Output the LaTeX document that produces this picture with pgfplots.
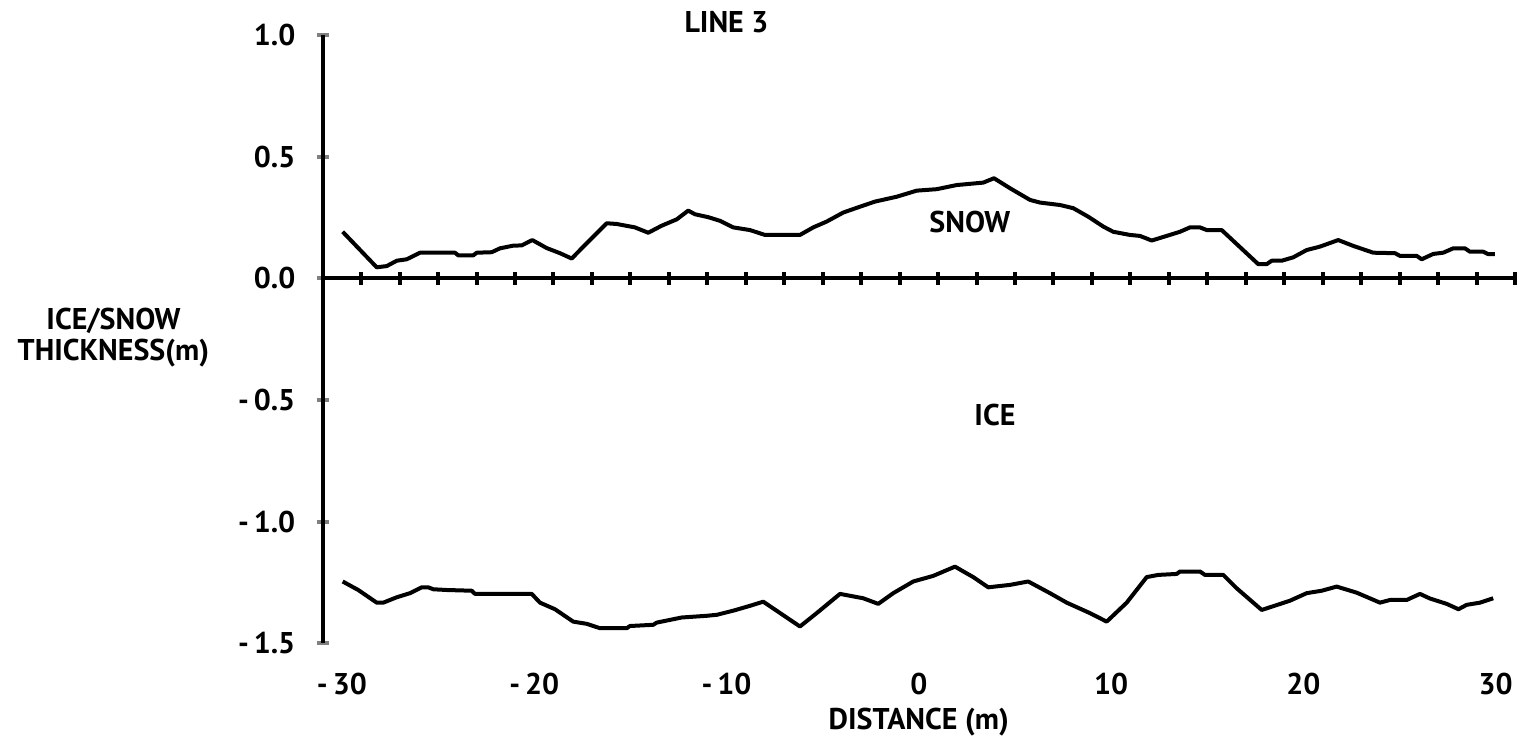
\documentclass[border=0pt]{standalone}
\usepackage{fontspec}
\setmainfont{PT Sans}
\usepackage{pgfplots}
\pgfplotsset{compat=1.18}
\begin{document}
\fontsize{15}{15.5}\selectfont\bfseries
\begin{tikzpicture}
\begin{axis}[
  scale only axis,
  width=596.15pt, height=304.2pt,
  xmin=-31, xmax=31, ymin=-1.5, ymax=1.0,
  axis y line=left, axis x line=bottom,
  axis line style={-, line width=2pt},
  x axis line style={draw=none},
  xtick={-30,-20,-10,0,10,20,30},
  xticklabels={-\,30,-\,20,-\,10,0,10,20,30},
  xtick style={draw=none},
  ytick={-1.5,-1,-0.5,0,0.5,1},
  yticklabels={-\,1.5,-\,1.0,-\,0.5,0.0,0.5,1.0},
  ytick style={line width=2pt},
  tick align=center,
  major tick length=6pt,
  yticklabel style={anchor=east, xshift=-5.5pt},
  xticklabel style={anchor=north, yshift=-6.8pt},
  clip=false,
]
% zero line with ticks
\addplot[black, line width=2pt, mark=|, mark size=3.25pt, mark options={line width=2pt}] coordinates {
(-31,0) (-29,0) (-27,0) (-25,0) (-23,0) (-21,0) (-19,0) (-17,0) (-15,0) (-13,0) (-11,0)
(-9,0) (-7,0) (-5,0) (-3,0) (-1,0) (1,0) (3,0) (5,0) (7,0) (9,0) (11,0)
(13,0) (15,0) (17,0) (19,0) (21,0) (23,0) (25,0) (27,0) (29,0) (31,0)};
% snow
\addplot[black, line width=2pt, line join=round] coordinates {
(-29.96,0.191) (-28.19,0.045) (-27.67,0.050) (-27.15,0.072) (-26.63,0.078) (-25.94,0.105)
(-24.12,0.105) (-23.95,0.094) (-23.17,0.094) (-22.99,0.105) (-22.21,0.107) (-21.78,0.123)
(-21.09,0.134) (-20.65,0.135) (-20.10,0.157) (-19.35,0.124) (-18.66,0.103) (-18.05,0.081)
(-17.27,0.144) (-16.23,0.226) (-15.71,0.223) (-14.76,0.209) (-14.07,0.187) (-13.37,0.216)
(-12.59,0.242) (-11.99,0.278) (-11.64,0.263) (-10.95,0.251) (-10.34,0.236) (-9.65,0.209)
(-8.78,0.198) (-8.0,0.178) (-6.18,0.178) (-5.49,0.209) (-4.79,0.233) (-3.93,0.270)
(-3.06,0.294) (-2.28,0.315) (-1.15,0.335) (-0.11,0.360) (0.93,0.366) (1.97,0.383)
(3.35,0.393) (3.91,0.411) (4.74,0.370) (5.78,0.322) (6.30,0.311) (7.34,0.301)
(8.03,0.288) (8.81,0.253) (9.60,0.212) (10.11,0.191) (10.98,0.178) (11.50,0.174)
(12.11,0.155) (12.89,0.174) (13.58,0.191) (14.10,0.209) (14.62,0.209) (14.97,0.198)
(15.75,0.198) (17.65,0.058) (18.09,0.058) (18.35,0.072) (18.87,0.072) (19.47,0.086)
(20.17,0.116) (20.86,0.130) (21.81,0.157) (22.59,0.133) (23.63,0.105) (24.76,0.103)
(25.02,0.092) (25.89,0.092) (26.15,0.078) (26.75,0.100) (27.27,0.105) (27.79,0.123)
(28.40,0.123) (28.66,0.109) (29.35,0.109) (29.61,0.099) (29.96,0.099)};
% ice
\addplot[black, line width=2pt, line join=round] coordinates {
(-29.96,-1.246) (-29.15,-1.281) (-28.19,-1.333) (-27.85,-1.333) (-27.15,-1.311) (-26.46,-1.294)
(-25.85,-1.270) (-25.51,-1.270) (-25.25,-1.278) (-24.55,-1.281) (-23.25,-1.284) (-23.08,-1.297)
(-20.13,-1.297) (-19.70,-1.333) (-18.92,-1.360) (-17.97,-1.411) (-17.27,-1.420) (-16.58,-1.438)
(-15.19,-1.438) (-15.02,-1.429) (-13.81,-1.424) (-13.63,-1.415) (-12.33,-1.394) (-11.03,-1.387)
(-10.51,-1.383) (-9.65,-1.366) (-8.78,-1.346) (-8.09,-1.329) (-6.18,-1.431) (-5.31,-1.376)
(-4.10,-1.297) (-2.89,-1.315) (-2.11,-1.338) (-1.33,-1.294) (-0.29,-1.246) (0.75,-1.223)
(1.88,-1.185) (2.83,-1.228) (3.61,-1.270) (4.74,-1.260) (5.69,-1.246) (6.82,-1.294)
(7.69,-1.333) (8.90,-1.376) (9.77,-1.411) (10.81,-1.333) (11.85,-1.228) (12.45,-1.219)
(13.41,-1.215) (13.58,-1.205) (14.62,-1.205) (14.88,-1.219) (15.83,-1.219) (16.53,-1.274)
(17.83,-1.363) (18.26,-1.352) (19.30,-1.325) (20.17,-1.294) (20.95,-1.284) (21.73,-1.267)
(22.77,-1.292) (23.98,-1.333) (24.50,-1.322) (25.37,-1.322) (26.06,-1.297) (26.58,-1.316)
(27.45,-1.338) (28.06,-1.360) (28.49,-1.342) (29.18,-1.333) (29.87,-1.315)};
\node at (axis cs:-10,1.051) {LINE 3};
\node at (axis cs:2.65,0.231) {SNOW};
\node at (axis cs:3.96,-0.562) {ICE};
\node[align=center] at (axis cs:-41.88,-0.243) {ICE/SNOW\\THICKNESS(m)};
\node at (axis cs:0,-1.825) {DISTANCE (m)};
\coordinate (bl) at (axis cs:-47.78,-1.8887);
\coordinate (tr) at (axis cs:31.21,1.1434);
\end{axis}
\pgfresetboundingbox
\path[use as bounding box] (bl) rectangle (tr);
\end{tikzpicture}
\end{document}
